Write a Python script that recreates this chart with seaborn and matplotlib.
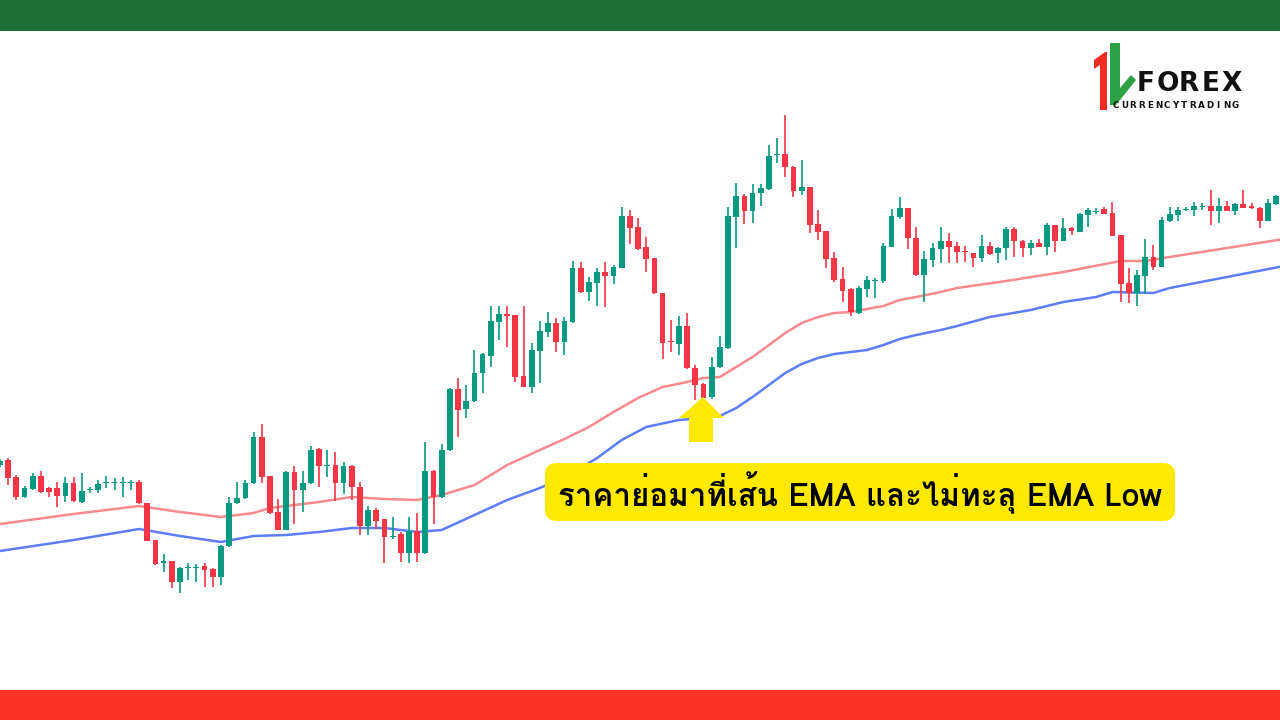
import numpy as np
import pandas as pd
import matplotlib
matplotlib.use("Agg")
import matplotlib.pyplot as plt
import seaborn as sns
from matplotlib import font_manager
from matplotlib.ft2font import FT2Font
from matplotlib.patches import Polygon, FancyBboxPatch, Rectangle

sns.set_theme(style="white")

# ---- candle data (price units, one candle per session) ----
open_ = [255, 260, 243, 223, 231, 244, 232, 232, 224, 237,
         218, 230, 230, 237, 237, 237, 237, 238, 217, 180,
         157, 159, 138, 152, 152, 154, 151, 143, 174, 217,
         222, 237, 283, 244, 208, 190, 248, 230, 237, 271,
         254, 255, 237, 254, 233, 194, 210, 201, 183, 186,
         167, 189, 167, 249, 223, 270, 331, 311, 319, 347,
         364, 398, 406, 405, 344, 333, 369, 388, 397, 378,
         398, 452, 428, 437, 448, 444, 452, 504, 493, 473,
         462, 427, 379, 376, 394, 352, 336, 323, 353, 372,
         503, 524, 509, 527, 531, 565, 566, 553, 529, 533,
         496, 489, 462, 441, 431, 407, 431, 439, 439, 473,
         503, 512, 482, 445, 460, 471, 479, 474, 469, 467,
         462, 474, 467, 472, 491, 479, 472, 477, 473, 495,
         479, 492, 488, 505, 508, 511, 507, 485, 437, 427,
         444, 463, 453, 499, 505, 510, 510, 513, 514, 509,
         514, 509, 516, 514, 512, 499, 516]
close = [259, 242, 223, 232, 244, 228, 228, 224, 237, 219,
         229, 231, 236, 238, 238, 238, 238, 217, 179, 156,
         159, 138, 152, 153, 153, 150, 143, 174, 217, 222,
         237, 283, 243, 207, 190, 248, 230, 237, 270, 254,
         255, 237, 254, 233, 194, 210, 199, 183, 184, 167,
         189, 167, 249, 223, 270, 331, 310, 319, 347, 366,
         399, 406, 404, 343, 333, 370, 389, 397, 378, 399,
         452, 428, 438, 448, 444, 453, 504, 492, 471, 461,
         427, 377, 378, 394, 352, 335, 322, 353, 373, 504,
         524, 509, 527, 532, 564, 566, 553, 529, 533, 495,
         488, 461, 440, 429, 408, 432, 440, 440, 474, 504,
         512, 482, 445, 461, 472, 479, 473, 468, 468, 462,
         474, 466, 472, 491, 479, 472, 477, 473, 495, 479,
         492, 489, 506, 510, 509, 506, 484, 436, 427, 445,
         463, 453, 500, 506, 510, 511, 514, 514, 509, 514,
         509, 516, 512, 512, 499, 517, 524]
high = [261, 262, 245, 234, 247, 249, 233, 238, 243, 243,
        247, 233, 240, 244, 242, 243, 240, 240, 217, 180,
        166, 159, 153, 157, 156, 157, 152, 175, 223, 238,
        240, 288, 296, 244, 221, 249, 254, 249, 274, 272,
        270, 268, 258, 255, 238, 214, 212, 201, 203, 188,
        203, 207, 278, 250, 276, 332, 342, 335, 370, 367,
        414, 414, 414, 405, 414, 377, 399, 408, 402, 403,
        459, 458, 443, 452, 458, 455, 513, 510, 502, 483,
        462, 427, 400, 404, 407, 355, 337, 363, 384, 513,
        537, 526, 536, 536, 575, 582, 605, 554, 560, 533,
        510, 489, 468, 453, 432, 434, 444, 442, 477, 511,
        523, 512, 493, 469, 477, 493, 487, 478, 474, 467,
        485, 478, 473, 493, 493, 480, 480, 481, 497, 495,
        502, 493, 507, 512, 512, 513, 518, 485, 452, 450,
        481, 475, 503, 513, 513, 513, 518, 517, 530, 522,
        519, 517, 530, 517, 513, 521, 525]
low = [253, 235, 220, 222, 230, 227, 223, 213, 218, 218,
       217, 227, 227, 232, 230, 223, 230, 216, 179, 155,
       148, 132, 127, 140, 138, 133, 133, 135, 173, 216,
       221, 236, 237, 206, 190, 190, 196, 208, 236, 233,
       243, 219, 226, 220, 185, 185, 191, 157, 181, 158,
       157, 158, 166, 196, 222, 269, 283, 302, 318, 327,
       353, 380, 373, 338, 333, 327, 337, 383, 368, 365,
       397, 427, 419, 414, 413, 436, 452, 476, 470, 448,
       426, 361, 368, 365, 351, 320, 320, 321, 352, 371,
       472, 496, 497, 514, 530, 557, 543, 523, 525, 487,
       480, 452, 438, 418, 404, 406, 423, 422, 437, 473,
       501, 471, 444, 418, 453, 457, 457, 457, 458, 453,
       458, 465, 457, 460, 463, 463, 465, 473, 465, 468,
       479, 485, 488, 493, 506, 506, 484, 418, 417, 414,
       426, 450, 453, 498, 499, 509, 504, 510, 495, 497,
       509, 505, 512, 511, 492, 499, 515]

# ---- EMA lines (candle index -> value) ----
ema_idx = [0, 9, 17, 22, 27, 31, 33, 39, 43, 47, 51, 54, 58, 62, 66, 69, 72, 75,
           78, 81, 84, 86, 88, 90, 92, 94, 96, 98, 100, 102, 104, 106, 108, 110,
           112, 115, 117, 123, 130, 137, 140, 143, 150, 157]
ema_val = [196, 206, 214, 208, 203, 207, 212, 218, 223, 221, 220, 225, 235, 255,
           270, 281, 293, 308, 322, 333, 338, 342, 343, 353, 363, 375, 387, 397,
           403, 407, 408, 411, 414, 420, 423, 428, 432, 439, 448, 459, 459, 463,
           472, 481]
ema_low_idx = [0, 9, 17, 22, 27, 31, 35, 39, 43, 47, 51, 54, 58, 62, 66, 70, 73,
               76, 79, 83, 86, 88, 90, 92, 94, 96, 98, 100, 102, 104, 106, 108,
               110, 112, 115, 117, 121, 126, 130, 134, 136, 141, 143, 150, 157]
ema_low_val = [169, 180, 191, 184, 178, 184, 185, 188, 192, 192, 188, 190, 205,
               220, 232, 247, 262, 280, 293, 300, 302, 304, 312, 323, 335, 347,
               356, 362, 366, 368, 370, 375, 381, 385, 390, 394, 403, 410, 418,
               423, 428, 427, 432, 443, 454]

caption = "ราคาย่อมาที่เส้น EMA และไม่ทะลุ EMA Low"

GREEN = "#089981"
RED = "#F23645"
YELLOW = "#FFE900"


def thai_family():
    # look for an installed font that has Thai glyphs
    found = []
    for f in font_manager.fontManager.ttflist:
        try:
            if 0x0E23 in FT2Font(f.fname).get_charmap():
                found.append(f)
        except Exception:
            pass
    if not found:
        return None
    def score(f):
        w = f.weight if isinstance(f.weight, int) else 400
        return abs(w - 700)
    found.sort(key=score)
    return found[0].name


df = pd.DataFrame({"open": open_, "high": high, "low": low, "close": close})
df["idx"] = np.arange(len(df))
df["color"] = np.where(df["close"] >= df["open"], GREEN, RED)
body_h = np.maximum((df["close"] - df["open"]).abs(), 1.6)
body_mid = (df["close"] + df["open"]) / 2

fig = plt.figure(figsize=(12.8, 7.2), dpi=100)
fig.patch.set_facecolor("white")

ax = fig.add_axes([0, 0, 1, 1])

ema_df = pd.DataFrame({"idx": ema_idx, "val": ema_val})
ema_low_df = pd.DataFrame({"idx": ema_low_idx, "val": ema_low_val})
sns.lineplot(data=ema_df, x="idx", y="val", ax=ax, color="#F88A8E", lw=1.8, zorder=1)
sns.lineplot(data=ema_low_df, x="idx", y="val", ax=ax, color="#5D7DF6", lw=1.8, zorder=1)

ax.vlines(df["idx"], df["low"], df["high"], colors=df["color"], lw=1.2, zorder=3)
ax.bar(df["idx"], body_h, bottom=body_mid - body_h / 2, width=0.7,
       color=df["color"], linewidth=0, zorder=4)
ax.set_xlim(0, 1280 / 8.18)
ax.set_ylim(0, 720)
ax.axis("off")

# ---- overlay in pixel coordinates ----
ov = fig.add_axes([0, 0, 1, 1], zorder=5)
ov.set_xlim(0, 1280)
ov.set_ylim(720, 0)
ov.axis("off")
ov.patch.set_alpha(0)

ov.add_patch(Rectangle((0, 0), 1280, 31, color="#1E7136", lw=0))
ov.add_patch(Rectangle((0, 690), 1280, 30, color="#F93224", lw=0))

# arrow pointing at the pullback candle
ov.add_patch(Polygon([(703, 397), (724, 418), (713, 418), (713, 442),
                      (689, 442), (689, 418), (679, 418)], closed=True,
                     color=YELLOW, lw=0))

ov.add_patch(FancyBboxPatch((545, 463), 630, 58,
                            boxstyle="round,pad=0,rounding_size=12",
                            color=YELLOW, lw=0))
fam = thai_family()
families = [fam, "DejaVu Sans"] if fam else ["DejaVu Sans"]
ov.text(860, 493, caption, ha="center", va="center", fontsize=22.5,
        fontweight="bold", family=families, color="black")

# logo
ov.add_patch(Polygon([(1094, 60), (1105, 52), (1107, 52), (1107, 110),
                      (1100, 110), (1100, 65), (1094, 69)], closed=True,
                     color="#EE2C24", lw=0))
ov.add_patch(Polygon([(1110, 43), (1120, 43), (1120, 88), (1131, 75),
                      (1136, 80), (1116, 105), (1110, 105)], closed=True,
                     color="#2DA043", lw=0))
for k, ch in enumerate("FOREX"):
    ov.text(1146 + 21.4 * k, 84, ch, ha="center", va="center", fontsize=19,
            fontweight="heavy", family="DejaVu Sans", color="#111111")
for k, ch in enumerate("CURRENCYTRADING"):
    ov.text(1116 + 8.5 * k, 105, ch, ha="center", va="center", fontsize=6.3,
            fontweight="bold", family="DejaVu Sans", color="#111111")

fig.savefig("out.png", dpi=100)
